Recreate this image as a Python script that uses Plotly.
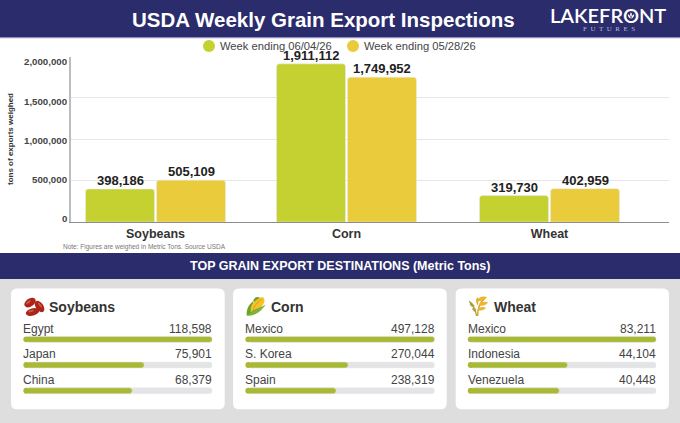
import base64

import plotly.graph_objects as go

W = 680
H = 423

# Top chart data
grains = ["Soybeans", "Corn", "Wheat"]
week_latest = [398186, 1911112, 319730]
week_prior = [505109, 1749952, 402959]
week_latest_name = "Week ending 06/04/26"
week_prior_name = "Week ending 05/28/26"
y_ticks = [0, 500000, 1000000, 1500000, 2000000]

# Destination cards
soy_countries = ["Egypt", "Japan", "China"]
soy_tons = [118598, 75901, 68379]
corn_countries = ["Mexico", "S. Korea", "Spain"]
corn_tons = [497128, 270044, 238319]
wheat_countries = ["Mexico", "Indonesia", "Venezuela"]
wheat_tons = [83211, 44104, 40448]

NAVY = "#2a2c6c"
GREEN = "#c5d131"
YELLOW = "#e9cb3b"
BAR_GREEN = "#a9b934"
TRACK = "#e4e4e4"
PAGE_GREY = "#dedede"
FONT = "Liberation Sans"


def px(x):
    return x / W


def py(y):
    return 1 - y / H


def rounded_rect(x0, y0, x1, y1, r, color):
    # path in paper coords, corners are small enough to ignore the aspect
    rx = r / W
    ry = r / H
    a, b, c, d = px(x0), py(y0), px(x1), py(y1)
    path = (f"M {a + rx} {b} L {c - rx} {b} Q {c} {b} {c} {b - ry} "
            f"L {c} {d + ry} Q {c} {d} {c - rx} {d} L {a + rx} {d} "
            f"Q {a} {d} {a} {d + ry} L {a} {b - ry} Q {a} {b} {a + rx} {b} Z")
    return dict(type="path", path=path, xref="paper", yref="paper",
                fillcolor=color, line_width=0, layer="below")


def rect(x0, y0, x1, y1, color):
    return dict(type="rect", xref="paper", yref="paper", x0=px(x0), x1=px(x1),
                y0=py(y1), y1=py(y0), fillcolor=color, line_width=0, layer="below")


def label(text, x, y, size, color, anchor="left", bold=False, family=FONT, weight=None, **kw):
    return dict(text=text, x=px(x), y=py(y), xref="paper", yref="paper",
                xanchor=anchor, yanchor="middle", showarrow=False, borderpad=0, borderwidth=0,
                font=dict(family=family, size=size, color=color,
                          weight=weight or ("bold" if bold else "normal")), **kw)


def svg_image(svg, x, y, size):
    uri = "data:image/svg+xml;base64," + base64.b64encode(svg.encode()).decode()
    return dict(source=uri, xref="paper", yref="paper", x=px(x), y=py(y),
                sizex=size / W, sizey=size / H, xanchor="left", yanchor="top",
                sizing="contain", layer="above")


def bean(cx, cy, rx, ry, angle):
    return (f'<g transform="rotate({angle} {cx} {cy})">'
            f'<ellipse cx="{cx}" cy="{cy}" rx="{rx}" ry="{ry}" fill="#ab2519"/>'
            f'<ellipse cx="{cx - 1}" cy="{cy - 1.2}" rx="{rx * 0.45}" ry="{ry * 0.25}" fill="#cf5a45"/></g>')


BEANS_SVG = ('<svg xmlns="http://www.w3.org/2000/svg" viewBox="0 0 20 20">'
             + bean(5.9, 6.2, 6, 3.8, -35) + bean(15, 10, 6.2, 3.6, 55) + bean(8.3, 15.2, 6.5, 3.5, -15)
             + '</svg>')

CORN_SVG = ('<svg xmlns="http://www.w3.org/2000/svg" viewBox="0 0 20 20">'
            '<path d="M7 5 C8 1 11 0 14 2 L9 7 Z" fill="#6aa32c"/>'
            '<path d="M1 19 C0 13 3 8 7 5 C7 9 7 13 5 17 Z" fill="#6aa32c"/>'
            '<path d="M5 16 C3 9 9 3 16 1 C19 3 18 7 15 10 C12 14 8 16 5 16 Z" fill="#f6c22a"/>'
            '<path d="M7 13 C8 9 11 6 15 3" stroke="#e6a015" stroke-width="1" fill="none"/>'
            '<path d="M2 19 C6 19 13 17 19 8 C14 11 9 12 6 14 Z" fill="#7fb235"/>'
            '</svg>')

WHEAT_SVG = ('<svg xmlns="http://www.w3.org/2000/svg" viewBox="0 0 20 20">'
             '<path d="M8 19 C7 13 5 9 1 5" stroke="#a9a13a" stroke-width="1.3" fill="none"/>'
             '<path d="M9 19 C9 12 11 6 16 2" stroke="#c9a02a" stroke-width="1.3" fill="none"/>'
             '<path d="M3 6 C1 6 1 8 3 10 C5 11 6 10 6 9 Z" fill="#a9a13a"/>'
             '<path d="M5 11 C3 11 4 14 6 15 C8 15 8 13 7 12 Z" fill="#b5a53a"/>'
             '<path d="M9 3 C12 0 15 0 18 1 C16 4 12 5 10 5 Z" fill="#efb52c"/>'
             '<path d="M10 8 C12 5 16 5 19 6 C17 9 13 10 10 9 Z" fill="#efb52c"/>'
             '<path d="M9 13 C11 10 14 10 17 11 C15 14 12 14 9 14 Z" fill="#efb52c"/>'
             '<path d="M9 1 C7 3 7 6 9 9 C10 6 10 3 9 1 Z" fill="#e4a92a"/>'
             '</svg>')

# little wheat mark inside the O of the logo
LOGO_MARK_SVG = ('<svg xmlns="http://www.w3.org/2000/svg" viewBox="0 0 10 10">'
                 '<path d="M5 1 C6.5 3 6.5 5 5 7 C3.5 5 3.5 3 5 1 Z" fill="white"/>'
                 '<path d="M1 3.5 C3 4 4.5 6 4.6 9 C2.5 8 1 6 1 3.5 Z" fill="white"/>'
                 '<path d="M9 3.5 C7 4 5.5 6 5.4 9 C7.5 8 9 6 9 3.5 Z" fill="white"/>'
                 '</svg>')

# bar groups are not quite evenly spaced in the original, so plot on a pixel-like x axis
group_centers = [155.5, 346.5, 549.5]
bar_offset = 35.5
bar_width = 69
# tick labels sit on their own spacing in the original, not quite level with the gridlines
tick_label_y = [218.7, 179.5, 140.3, 101, 62]

fig = go.Figure()
fig.add_trace(go.Bar(
    name=week_latest_name, x=[c - bar_offset for c in group_centers], y=week_latest,
    width=bar_width, marker=dict(color=GREEN, cornerradius=3), xaxis="x", yaxis="y"))
fig.add_trace(go.Bar(
    name=week_prior_name, x=[c + bar_offset for c in group_centers], y=week_prior,
    width=bar_width, marker=dict(color=YELLOW, cornerradius=3), xaxis="x", yaxis="y"))

shapes = [
    rect(0, 0, W, 37, NAVY),
    rect(0, 37, W, 38.2, "#8f8fc0"),
    rect(0, 253, W, 279, NAVY),
    rect(0, 279, W, H, PAGE_GREY),
]
annotations = [
    label("USDA Weekly Grain Export Inspections", 323.5, 20, 20.5, "white", "center", True),
    label("LAKEFRONT", 608, 15.5, 20, "white", "center", family="Lato", weight=600),
    label("F\u00a0\u00a0U\u00a0\u00a0T\u00a0\u00a0U\u00a0\u00a0R\u00a0\u00a0E\u00a0\u00a0S", 609, 29, 7,
          "#b9bbdc", "center", family="Liberation Serif"),
    label("TOP GRAIN EXPORT DESTINATIONS (Metric Tons)", 340, 266, 12.5, "white", "center", True),
    label("Note: Figures are weighed in Metric Tons. Source USDA", 63, 247, 6.5, "#777777"),
    label(week_latest_name, 220, 46, 11.2, "#444444"),
    label(week_prior_name, 364, 46, 11.2, "#444444"),
    label("tons of exports weighed", 10.5, 139.5, 8, "#333333", "center", True, textangle=-90),
]
for tick, y in zip(y_ticks, tick_label_y):
    annotations.append(label(f"{tick:,}", 66.5, y, 9.7, "#444444", "right", True))
for values, offset in [(week_latest, -bar_offset), (week_prior, bar_offset)]:
    for c, v in zip(group_centers, values):
        annotations.append(dict(text=f"{v:,}", x=c + offset, y=v, xref="x", yref="y",
                                xanchor="center", yanchor="bottom", showarrow=False,
                                borderpad=0, borderwidth=0, yshift=1,
                                font=dict(family=FONT, size=13, color="#222222", weight="bold")))
for cx, color in [(209, GREEN), (353, YELLOW)]:
    shapes.append(dict(type="circle", xref="paper", yref="paper", x0=px(cx - 6), x1=px(cx + 6),
                       y0=py(52), y1=py(40), fillcolor=color, line_width=0))

cards = [
    ("Soybeans", soy_countries, soy_tons, 11, 224.7, 23.3, 212.3, BEANS_SVG),
    ("Corn", corn_countries, corn_tons, 233, 446.7, 245.3, 434.7, CORN_SVG),
    ("Wheat", wheat_countries, wheat_tons, 455.7, 669, 467.7, 656.3, WHEAT_SVG),
]

axes = {}
images = [svg_image(LOGO_MARK_SVG, 627, 11.5, 8)]
row_top = 326.5
row_h = 25.7
for i, (title, countries, tons, card_l, card_r, bar_l, bar_r, icon) in enumerate(cards):
    n = i + 2
    shapes.append(rounded_rect(card_l, 288.5, card_r, 409.3, 6, "white"))
    images.append(svg_image(icon, bar_l + 0.5, 296, 21))
    annotations.append(label(title, bar_l + 26, 306.5, 14, "#333333", bold=True))
    top = max(tons)
    # bars round only their far end, so they start 3px in and a dot closes the left end
    pad = top * 3 / (bar_r - bar_l)
    fig.add_trace(go.Bar(y=countries, x=[top - pad] * 3, base=pad, orientation="h", width=0.23,
                         marker=dict(color=TRACK, cornerradius=3), hoverinfo="skip",
                         xaxis=f"x{n}", yaxis=f"y{n}"))
    fig.add_trace(go.Bar(y=countries, x=[v - pad for v in tons], base=pad, orientation="h", width=0.23,
                         marker=dict(color=BAR_GREEN, cornerradius=3), name=title,
                         xaxis=f"x{n}", yaxis=f"y{n}"))
    fig.add_trace(go.Scatter(y=countries, x=[pad] * 3, mode="markers", cliponaxis=False,
                             marker=dict(color=BAR_GREEN, size=5.9, line_width=0), hoverinfo="skip",
                             xaxis=f"x{n}", yaxis=f"y{n}"))
    axes[f"xaxis{n}"] = dict(domain=[px(bar_l), px(bar_r)], range=[0, top], visible=False,
                             anchor=f"y{n}", fixedrange=True)
    axes[f"yaxis{n}"] = dict(domain=[py(row_top + 3 * row_h), py(row_top)], visible=False,
                             anchor=f"x{n}", autorange=False, range=[2.5, -0.5],
                             categoryorder="array", categoryarray=countries, fixedrange=True)
    for j, (country, value) in enumerate(zip(countries, tons)):
        y = 328.5 + j * row_h
        annotations.append(label(country, bar_l, y, 12, "#444444"))
        annotations.append(label(f"{value:,}", bar_r, y, 12, "#444444", "right"))

fig.update_layout(
    width=W, height=H, margin=dict(l=0, r=0, t=0, b=0),
    paper_bgcolor="white", plot_bgcolor="rgba(0,0,0,0)",
    barmode="overlay", showlegend=False, shapes=shapes, annotations=annotations, images=images,
    xaxis=dict(domain=[px(71), px(669)], range=[71, 669], tickmode="array", tickvals=group_centers,
               ticktext=grains, ticks="", showgrid=False, zeroline=False, showline=True,
               linecolor="#8c8c8c", linewidth=1, anchor="y", fixedrange=True, automargin=False,
               tickfont=dict(family=FONT, size=12.5, color="#333333", weight="bold")),
    yaxis=dict(domain=[py(222), py(56.5)], range=[0, 2000000], tickmode="array", tickvals=y_ticks,
               showticklabels=False, gridcolor="#e6e6e6", gridwidth=1, zeroline=False, showline=True,
               linecolor="#bdbdbd", linewidth=2, anchor="x", fixedrange=True, automargin=False),
    **axes,
)

fig.write_html("out.html", config={"displayModeBar": False},
               post_script="document.body.style.margin='0';")
